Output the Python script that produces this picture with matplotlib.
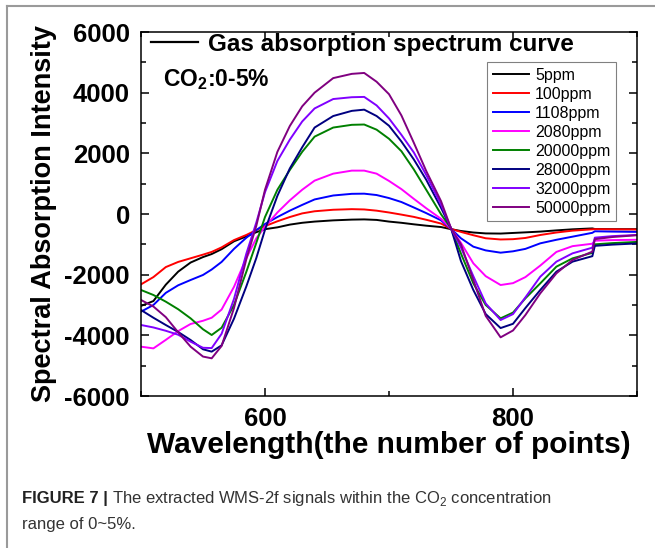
import matplotlib
matplotlib.use('Agg')
import matplotlib.pyplot as plt
from matplotlib.lines import Line2D
from matplotlib.ticker import MultipleLocator

plt.rcParams['font.family'] = 'Liberation Sans'
plt.rcParams['mathtext.fontset'] = 'custom'
plt.rcParams['mathtext.rm'] = 'Liberation Sans'
plt.rcParams['mathtext.bf'] = 'Liberation Sans:bold'
plt.rcParams['axes.unicode_minus'] = False

# --- Data ---
points = [500, 510, 520, 530, 540, 550, 557, 565,
          575, 585, 593, 600, 610, 620, 630, 640,
          655, 670, 680, 690, 700, 710, 720, 730, 742,
          750, 758, 768, 778, 790, 800, 810, 822, 835, 848,
          864, 866, 880, 900]

ppm_5 = [-3030, -2870, -2330, -1900, -1600, -1420, -1320, -1160,
         -900, -740, -600, -500, -440, -350, -290, -250,
         -210, -185, -178, -195, -250, -290, -340, -385, -430,
         -500, -560, -610, -640, -645, -625, -605, -580, -540, -505,
         -475, -495, -500, -500]
ppm_100 = [-2320, -2080, -1750, -1580, -1460, -1340, -1250, -1100,
           -860, -690, -530, -400, -240, -100, 20, 90,
           140, 160, 150, 110, 50, -20, -95, -190, -315,
           -490, -590, -700, -800, -840, -830, -790, -692, -610, -549,
           -505, -500, -505, -510]
ppm_1108 = [-3220, -3000, -2600, -2350, -2176, -2010, -1830, -1580,
            -1150, -780, -530, -330, -100, 110, 300, 480,
            610, 665, 670, 625, 525, 395, 215, 30, -210,
            -490, -800, -1077, -1200, -1275, -1230, -1150, -967, -850, -747,
            -620, -570, -580, -590]
ppm_2080 = [-4374, -4430, -4150, -3860, -3626, -3520, -3420, -3150,
            -2400, -1450, -800, -420, 50, 450, 800, 1100,
            1330, 1430, 1430, 1330, 1090, 820, 500, 190, -160,
            -480, -950, -1626, -2050, -2341, -2280, -2080, -1700, -1250, -1060,
            -980, -880, -860, -850]
ppm_20000 = [-2505, -2670, -2890, -3140, -3440, -3800, -3989, -3750,
             -3000, -1900, -950, -100, 800, 1450, 2050, 2550,
             2850, 2940, 2950, 2780, 2480, 2070, 1470, 800, -10,
             -470, -1300, -2286, -3000, -3440, -3250, -2780, -2286, -1736, -1462,
             -1280, -1000, -960, -920]
ppm_28000 = [-3165, -3420, -3660, -3890, -4154, -4460, -4538, -4330,
             -3450, -2380, -1450, -520, 600, 1500, 2200, 2850,
             3230, 3400, 3440, 3230, 2910, 2390, 1800, 1130, 200,
             -470, -1550, -2505, -3300, -3760, -3620, -3100, -2505, -1901, -1571,
             -1390, -1050, -1010, -970]
ppm_32000 = [-3659, -3740, -3850, -3980, -4209, -4410, -4420, -3950,
             -2800, -1300, -280, 720, 1750, 2450, 3050, 3480,
             3790, 3850, 3860, 3580, 3150, 2610, 2030, 1290, 310,
             -470, -1100, -2050, -2950, -3495, -3300, -2750, -2066, -1571, -1297,
             -1110, -780, -730, -690]
ppm_50000 = [-2835, -3050, -3400, -3900, -4374, -4700, -4758, -4350,
             -3100, -1480, -390, 800, 2050, 2900, 3550, 4000,
             4480, 4620, 4650, 4360, 3950, 3250, 2350, 1420, 420,
             -470, -1000, -2176, -3360, -4066, -3840, -3330, -2615, -1956, -1516,
             -1240, -830, -760, -700]

series = [ppm_5, ppm_100, ppm_1108, ppm_2080, ppm_20000, ppm_28000, ppm_32000, ppm_50000]
labels = ['5ppm', '100ppm', '1108ppm', '2080ppm', '20000ppm', '28000ppm', '32000ppm', '50000ppm']
colors = ['#000000', '#ff0000', '#0000ff', '#ff00ff', '#008000', '#000080', '#8000ff', '#800080']

# --- Figure ---
fig = plt.figure(figsize=(6.55, 5.48), dpi=100)
ax = fig.add_axes([141 / 655, 1 - 396 / 548, 496 / 655, 364 / 548])

for vals, lab, col in zip(series, labels, colors):
    ax.plot(points, vals, color=col, lw=1.4, label=lab)

ax.set_xlim(500, 900)
ax.set_ylim(-6000, 6000)
ax.xaxis.set_major_locator(MultipleLocator(200))
ax.xaxis.set_minor_locator(MultipleLocator(100))
ax.yaxis.set_major_locator(MultipleLocator(2000))
ax.yaxis.set_minor_locator(MultipleLocator(1000))
ax.tick_params(which='both', direction='in', top=True, right=True, width=1.1)
ax.tick_params(which='major', length=6)
ax.tick_params(which='minor', length=3.5)
ax.tick_params(axis='y', labelsize=18.5, pad=8)
ax.tick_params(axis='x', labelsize=18.5, pad=8)
for t in ax.get_xticklabels() + ax.get_yticklabels():
    t.set_fontweight('bold')
for sp in ax.spines.values():
    sp.set_linewidth(1.1)

ax.set_xlabel('Wavelength(the number of points)', fontsize=21.5, fontweight='bold', labelpad=0)
ax.set_ylabel('Spectral Absorption Intensity', fontsize=19.5, fontweight='bold', labelpad=5)

leg = ax.legend(loc='upper right', bbox_to_anchor=(475 / 496, 334 / 364), borderaxespad=0,
                fontsize=11.5, handlelength=2.3, handletextpad=0.35, labelspacing=0.25,
                borderpad=0.35, fancybox=False, edgecolor='#808080', framealpha=1)
leg.get_frame().set_linewidth(0.8)
ax.add_artist(leg)

ax.legend(handles=[Line2D([], [], color='black', lw=1.6)], labels=['Gas absorption spectrum curve'],
          loc='upper left', bbox_to_anchor=(0.02, 0.998), borderaxespad=0, borderpad=0,
          frameon=False, prop={'weight': 'bold', 'size': 17.5}, handlelength=1.95, handletextpad=0.4)

ax.text(22 / 496, (396 - 80) / 364, r'CO$_\mathbf{2}$:0-5%', transform=ax.transAxes,
        fontsize=16.5, fontweight='bold', va='center')

# outer frame of the figure panel
fig.add_artist(Line2D([7 / 655, 7 / 655], [0, 1 - 6 / 548], color='#9a9a9a', lw=1.5))
fig.add_artist(Line2D([7 / 655, 1], [1 - 6 / 548, 1 - 6 / 548], color='#9a9a9a', lw=1.5))

# caption
cap1 = fig.text(22 / 655, 1 - 499 / 548, 'FIGURE 7 |', fontsize=12, fontweight='bold',
                color='#222222', va='center')
fig.canvas.draw()
bb = cap1.get_window_extent()
fig.text((bb.x1 + 4) / 655, 1 - 499 / 548,
         'The extracted WMS-2f signals within the CO$_2$ concentration',
         fontsize=12, color='#333333', va='center')
fig.text(22 / 655, 1 - 524 / 548, 'range of 0~5%.', fontsize=12, color='#333333', va='center')

fig.savefig('out.png', dpi=100)
